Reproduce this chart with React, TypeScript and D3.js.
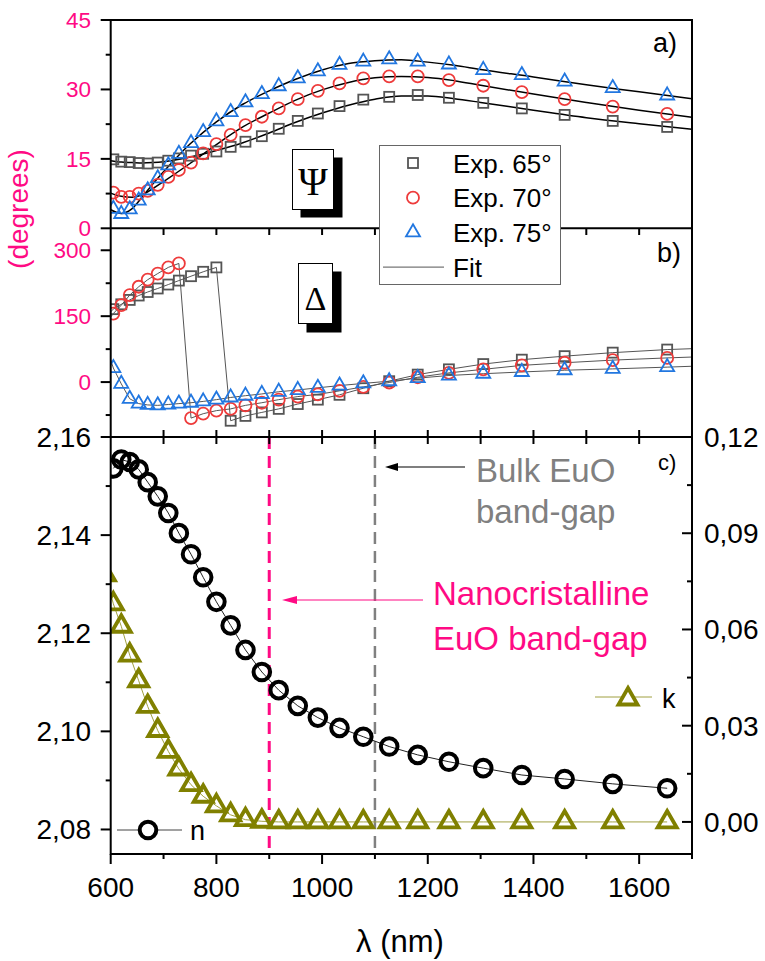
import React from "react";
import * as d3 from "d3";

// ---------- data ----------
const wavelengths = [605, 620, 636, 653, 670, 689, 709, 729, 752, 775, 800, 827, 855, 886, 918, 954, 992, 1033, 1078, 1127, 1181, 1240, 1305, 1378, 1459, 1550, 1653];

const psi65 = [14.9, 14.4, 14.3, 14.1, 14.0, 14.2, 14.6, 15.1, 15.7, 16.1, 16.6, 17.6, 18.7, 19.9, 21.5, 23.2, 24.8, 26.4, 27.8, 28.4, 28.8, 28.2, 27.1, 25.9, 24.5, 23.2, 21.9];
const psi70 = [7.7, 6.8, 6.8, 7.5, 8.1, 9.4, 11.1, 12.6, 14.2, 16.2, 18.2, 20.2, 22.3, 24.1, 25.9, 27.9, 29.7, 31.3, 32.4, 32.8, 32.8, 32.0, 30.8, 29.4, 27.9, 26.3, 24.7];
const psi75 = [4.2, 3.1, 4.1, 6.0, 8.2, 10.8, 13.6, 16.1, 18.4, 20.8, 23.1, 25.1, 27.2, 29.0, 30.7, 32.4, 33.9, 35.3, 36.0, 36.5, 36.0, 35.4, 34.2, 33.1, 31.7, 30.3, 28.7];

const fitWavelengths = [600, 620, 640, 660, 680, 700, 750, 800, 850, 900, 950, 1000, 1050, 1100, 1150, 1200, 1250, 1300, 1400, 1500, 1600, 1700];
const fitPsi65 = [14.6, 14.3, 14.2, 14.1, 14.2, 14.4, 15.4, 16.8, 18.5, 20.6, 22.9, 24.9, 26.6, 27.9, 28.6, 28.6, 28.0, 27.2, 25.5, 23.9, 22.6, 21.4];
const fitPsi70 = [7.6, 6.9, 6.7, 7.3, 8.6, 10.1, 14.0, 18.1, 21.9, 24.9, 27.7, 29.9, 31.5, 32.5, 32.8, 32.6, 31.9, 30.9, 29.0, 27.2, 25.5, 24.0];
const fitPsi75 = [4.0, 3.2, 4.2, 6.8, 9.6, 12.2, 18.2, 23.0, 26.8, 29.7, 32.2, 34.2, 35.6, 36.2, 36.4, 35.9, 35.2, 34.3, 32.7, 31.0, 29.5, 28.0];

const delta65 = [166, 177, 187, 197, 205, 213, 222, 231, 241, 251, 261, -88, -77, -69, -61, -50, -40, -29, -14, 2, 17, 29, 41, 51, 59, 67, 74];
const delta70 = [156, 175, 198, 217, 233, 247, 261, 270, -82, -72, -65, -61, -53, -47, -40, -33, -28, -20, -11, -1, 11, 21, 29, 38, 44, 50, 55];
const delta75 = [32, -4, -38, -49, -52, -53, -51, -49, -47, -44, -40, -35, -31, -27, -22, -18, -13, -8, -3, 2, 9, 15, 19, 23, 27, 30, 34];
const deltaFitEnds = [600, 1700];
const deltaFit65Ends = [160, 76];
const deltaFit70Ends = [148, 57];
const deltaFit75Ends = [50, 36];

const nValues = [2.1536, 2.1554, 2.1549, 2.1534, 2.1508, 2.1479, 2.1445, 2.1404, 2.1361, 2.1314, 2.1264, 2.1216, 2.1166, 2.1121, 2.1084, 2.1052, 2.1028, 2.1007, 2.0989, 2.0969, 2.0952, 2.0938, 2.0925, 2.0911, 2.0903, 2.0893, 2.0884];
const kWavelengths = [590, 605, 620, 636, 653, 670, 689, 709, 729, 752, 775, 800, 827, 855, 886, 918, 954, 992, 1033, 1078, 1127, 1181, 1240, 1305, 1378, 1459, 1550, 1653];
const kValues = [0.077, 0.068, 0.061, 0.052, 0.044, 0.036, 0.0285, 0.022, 0.0165, 0.0116, 0.008, 0.005, 0.0022, 0.0007, 0.0002, 0, 0, 0, 0, 0, 0, 0, 0, 0, 0, 0, 0, 0];

const psiTicks = [0, 15, 30, 45];
const psiMinor = [7.5, 22.5, 37.5];
const deltaTicks = [0, 150, 300];
const deltaMinor = [-75, 75, 225];
const nTicks = [2.08, 2.1, 2.12, 2.14, 2.16];
const nMinor = [2.09, 2.11, 2.13, 2.15];
const kTicks = [0, 0.03, 0.06, 0.09, 0.12];
const kMinor = [0.015, 0.045, 0.075, 0.105];
const xTicks = [600, 800, 1000, 1200, 1400, 1600];
const xMinor = [700, 900, 1100, 1300, 1500, 1700];
const xAllTicks = [700, 800, 900, 1000, 1100, 1200, 1300, 1400, 1500, 1600];

const legendLabels = ["Exp. 65°", "Exp. 70°", "Exp. 75°", "Fit"];
const nanoGap = 900;
const bulkGap = 1100;

// ---------- styles ----------
const FONT = "'Liberation Sans', Arial, sans-serif";
const SERIF = "'Liberation Serif', 'Times New Roman', serif";
const PINK = "#ff0a84";
const RED = "#ee3b3b";
const BLUE = "#2277e0";
const GRAYSQ = "#555555";
const OLIVE = "#808000";

const triPath = (s: number) => {
  const h = (s * Math.sqrt(3)) / 2;
  return `M0,${(-2 * h) / 3}L${s / 2},${h / 3}L${-s / 2},${h / 3}Z`;
};

export default function App() {
  const L = 110.7, R = 692;
  const x = d3.scaleLinear().domain([600, 1700]).range([L, R]);
  const yA = d3.scaleLinear().domain([0, 45]).range([228.3, 20]);
  const yB = d3.scaleLinear().domain([-125, 350]).range([437, 228.3]);
  const yN = d3.scaleLinear().domain([2.075, 2.16]).range([854, 437]);
  const yK = d3.scaleLinear().domain([-0.01, 0.12]).range([854, 437]);
  const comma = (f: string) => (v: number) => d3.format(f)(v).replace(".", ",");

  const lineA = d3.line<[number, number]>().x((d) => x(d[0])).y((d) => yA(d[1])).curve(d3.curveMonotoneX);
  const lineB = d3.line<[number, number]>().x((d) => x(d[0])).y((d) => yB(d[1]));
  const lineN = d3.line<[number, number]>().x((d) => x(d[0])).y((d) => yN(d[1]));
  const lineK = d3.line<[number, number]>().x((d) => x(d[0])).y((d) => yK(d[1]));

  const fitsA = [fitPsi65, fitPsi70, fitPsi75].map((arr) => arr.map((v, i) => [fitWavelengths[i], v] as [number, number]));
  const fitsB = [
    [delta65, deltaFit65Ends],
    [delta70, deltaFit70Ends],
    [delta75, deltaFit75Ends],
  ].map(([arr, ends]) => [
    [deltaFitEnds[0], ends[0]] as [number, number],
    ...arr.map((v, i) => [wavelengths[i], v] as [number, number]),
    [deltaFitEnds[1], ends[1]] as [number, number],
  ]);

  const marker = (kind: number, cx: number, cy: number, key: string) => {
    if (kind === 0)
      return <rect key={key} x={cx - 5} y={cy - 5} width={10} height={10} fill="none" stroke={GRAYSQ} strokeWidth={1.8} />;
    if (kind === 1) return <circle key={key} cx={cx} cy={cy} r={6} fill="none" stroke={RED} strokeWidth={1.8} />;
    return <path key={key} d={triPath(14)} transform={`translate(${cx},${cy})`} fill="none" stroke={BLUE} strokeWidth={1.8} />;
  };

  const psiSeries = [psi65, psi70, psi75];
  const deltaSeries = [delta65, delta70, delta75];

  // annotation arrows (tip x, y)
  const bulkTipX = 385, bulkY = 467;
  const nanoTipX = 282, nanoY = 600;

  return (
    <svg width={765} height={961} style={{ position: "absolute", left: 0, top: 0, background: "#fff" }} fontFamily={FONT}>
      <defs>
        <clipPath id="clipA"><rect x={L} y={20} width={R - L} height={228.3 - 20} /></clipPath>
        <clipPath id="clipB"><rect x={L} y={228.3} width={R - L} height={437 - 228.3} /></clipPath>
        <clipPath id="clipC"><rect x={L} y={437} width={R - L} height={854 - 437} /></clipPath>
      </defs>

      {/* ===== Panel a ===== */}
      <g clipPath="url(#clipA)">
        {fitsA.map((pts, i) => (
          <path key={"fa" + i} d={lineA(pts) || ""} fill="none" stroke="#000" strokeWidth={1.5} />
        ))}
        {psiSeries.map((arr, s) => arr.map((v, i) => marker(s, x(wavelengths[i]), yA(v), `a${s}-${i}`)))}
      </g>

      {/* Psi box */}
      <rect x={300.5} y={157.5} width={42} height={60} fill="#000" />
      <rect x={292.5} y={149.5} width={41} height={60} fill="#fff" stroke="#000" strokeWidth={1} />
      <text x={313} y={195} fontFamily={SERIF} fontSize={40} textAnchor="middle">Ψ</text>

      {/* ===== Panel b ===== */}
      <g clipPath="url(#clipB)">
        {fitsB.map((pts, i) => (
          <path key={"fb" + i} d={lineB(pts) || ""} fill="none" stroke="#555" strokeWidth={1} />
        ))}
        {deltaSeries.map((arr, s) => arr.map((v, i) => marker(s, x(wavelengths[i]), yB(v), `b${s}-${i}`)))}
      </g>

      {/* Delta box */}
      <rect x={306.5} y={271.5} width={35} height={61} fill="#000" />
      <rect x={298.5} y={263.5} width={34} height={60} fill="#fff" stroke="#000" strokeWidth={1} />
      <text x={315.5} y={310} fontFamily={SERIF} fontSize={34} textAnchor="middle">Δ</text>

      {/* ===== Panel c ===== */}
      <g clipPath="url(#clipC)">
        <line x1={x(nanoGap)} x2={x(nanoGap)} y1={437} y2={854} stroke={PINK} strokeWidth={3} strokeDasharray="12,7" />
        <line x1={x(bulkGap)} x2={x(bulkGap)} y1={437} y2={854} stroke="#808080" strokeWidth={2.5} strokeDasharray="12,7" />
        <path d={lineN(wavelengths.map((w, i) => [w, nValues[i]] as [number, number])) || ""} fill="none" stroke="#222" strokeWidth={1} />
        <path d={lineK(kWavelengths.map((w, i) => [w, kValues[i]] as [number, number])) || ""} fill="none" stroke="#a0a040" strokeWidth={1} />
        {kWavelengths.map((w, i) => (
          <path key={"k" + i} d={triPath(19)} transform={`translate(${x(w)},${yK(kValues[i])})`} fill="none" stroke={OLIVE} strokeWidth={3.8} />
        ))}
        {wavelengths.map((w, i) => (
          <circle key={"n" + i} cx={x(w)} cy={yN(nValues[i])} r={8.3} fill="none" stroke="#000" strokeWidth={4} />
        ))}
      </g>

      {/* annotations */}
      <line x1={465} x2={bulkTipX + 10} y1={bulkY} y2={bulkY} stroke="#000" strokeWidth={1.2} />
      <path d={`M${bulkTipX},${bulkY}L${bulkTipX + 13},${bulkY - 4}L${bulkTipX + 13},${bulkY + 4}Z`} fill="#000" />
      <text x={476} y={482} fontSize={33} fill="#808080">Bulk EuO</text>
      <text x={476} y={523} fontSize={33} fill="#808080">band-gap</text>
      <line x1={423} x2={nanoTipX + 10} y1={nanoY} y2={nanoY} stroke={PINK} strokeWidth={1.2} />
      <path d={`M${nanoTipX},${nanoY}L${nanoTipX + 15},${nanoY - 4}L${nanoTipX + 15},${nanoY + 4}Z`} fill={PINK} />
      <text x={433} y={605} fontSize={33} fill={PINK}>Nanocristalline</text>
      <text x={433} y={650} fontSize={33} fill={PINK}>EuO band-gap</text>

      {/* n / k legends */}
      <line x1={117} x2={182} y1={830} y2={830} stroke="#444" strokeWidth={1} />
      <circle cx={148} cy={830} r={8.3} fill="#fff" stroke="#000" strokeWidth={4} />
      <text x={190} y={840} fontSize={27}>n</text>
      <line x1={595} x2={652} y1={697} y2={697} stroke="#a0a040" strokeWidth={1} />
      <path d={triPath(19)} transform="translate(628,699)" fill="#fff" stroke={OLIVE} strokeWidth={3.8} />
      <text x={662} y={708} fontSize={27}>k</text>

      {/* ===== Axes / frames ===== */}
      <g stroke="#000" strokeWidth={2} fill="none">
        <rect x={L} y={20} width={R - L} height={854 - 20} />
        <line x1={L} x2={R} y1={228.3} y2={228.3} />
        <line x1={L} x2={R} y1={437} y2={437} />
      </g>

      <g stroke="#000" strokeWidth={2}>
        {psiTicks.map((t) => <line key={"pa" + t} x1={L - 10} x2={L} y1={yA(t)} y2={yA(t)} />)}
        {psiMinor.map((t) => <line key={"pam" + t} x1={L - 5} x2={L} y1={yA(t)} y2={yA(t)} />)}
        {deltaTicks.map((t) => <line key={"pb" + t} x1={L - 10} x2={L} y1={yB(t)} y2={yB(t)} />)}
        {deltaMinor.map((t) => <line key={"pbm" + t} x1={L - 5} x2={L} y1={yB(t)} y2={yB(t)} />)}
        {xAllTicks.map((t) => (
          <g key={"bt" + t}>
            <line x1={x(t)} x2={x(t)} y1={228.3} y2={235} />
            <line x1={x(t)} x2={x(t)} y1={430} y2={444} />
          </g>
        ))}
        {nTicks.map((t) => <line key={"nt" + t} x1={L - 10} x2={L} y1={yN(t)} y2={yN(t)} />)}
        {nMinor.map((t) => <line key={"nm" + t} x1={L - 5} x2={L} y1={yN(t)} y2={yN(t)} />)}
        {kTicks.map((t) => <line key={"kt" + t} x1={R - 10} x2={R} y1={yK(t)} y2={yK(t)} />)}
        {kMinor.map((t) => <line key={"km" + t} x1={R - 5} x2={R} y1={yK(t)} y2={yK(t)} />)}
        {xTicks.map((t) => <line key={"xt" + t} x1={x(t)} x2={x(t)} y1={854} y2={864} />)}
        {xMinor.map((t) => <line key={"xm" + t} x1={x(t)} x2={x(t)} y1={854} y2={859} />)}
      </g>

      {/* Legend (drawn over the a/b boundary) */}
      <rect x={379.5} y={145.5} width={181} height={139} fill="#fff" stroke="#666" strokeWidth={1} />
      {legendLabels.map((lab, i) => {
        const cy = 163 + i * 34.7;
        return (
          <g key={"lg" + i}>
            {i < 3 ? marker(i, 413, cy, "lm" + i) : <line x1={383} x2={444} y1={cy} y2={cy} stroke="#555" strokeWidth={1} />}
            <text x={453} y={cy + 9.5} fontSize={26}>{lab}</text>
          </g>
        );
      })}

      {/* tick labels */}
      <g fontSize={22.5} fill={PINK} textAnchor="end">
        {psiTicks.map((t) => <text key={"lpa" + t} x={91} y={yA(t) + 8}>{t}</text>)}
        {deltaTicks.map((t) => <text key={"lpb" + t} x={91} y={yB(t) + 8}>{t}</text>)}
      </g>
      <g fontSize={28} textAnchor="end">
        {nTicks.map((t) => <text key={"ln" + t} x={91} y={yN(t) + 10}>{comma(".2f")(t)}</text>)}
      </g>
      <g fontSize={28} textAnchor="start">
        {kTicks.map((t) => <text key={"lk" + t} x={704} y={yK(t) + 10}>{comma(".2f")(t)}</text>)}
      </g>
      <g fontSize={28} textAnchor="middle">
        {xTicks.map((t) => <text key={"lx" + t} x={x(t)} y={897}>{t}</text>)}
      </g>

      {/* axis titles */}
      <text transform="translate(28,209) rotate(-90)" fontSize={28} fill={PINK} textAnchor="middle">(degrees)</text>
      <text x={400} y={952} fontSize={31} textAnchor="middle">λ (nm)</text>

      {/* panel labels */}
      <text x={653} y={52} fontSize={27}>a)</text>
      <text x={657} y={262} fontSize={27}>b)</text>
      <text x={658} y={470} fontSize={22}>c)</text>
    </svg>
  );
}
